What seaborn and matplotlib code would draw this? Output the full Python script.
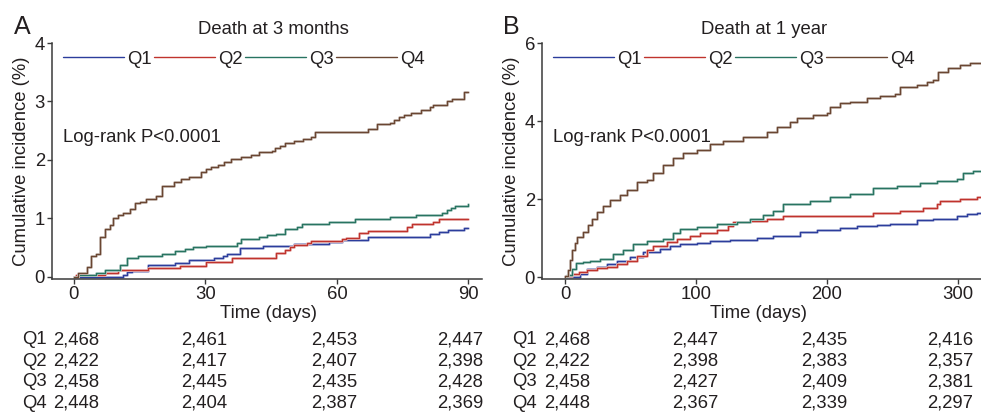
import numpy as np
import pandas as pd
import matplotlib
matplotlib.use("Agg")
import matplotlib.pyplot as plt
import matplotlib.transforms as mtransforms
import matplotlib.patheffects as pe
from matplotlib.lines import Line2D
from matplotlib.colors import to_rgb
import seaborn as sns

# ---------------- data ----------------
groups = ["Q1", "Q2", "Q3", "Q4"]

# Panel A: death at 3 months (time in days, cumulative incidence %)
A_Q1_t = [0, 11.3, 12.0, 13.2, 17.0, 23.0, 26.2, 32.0, 34.1, 35.0, 38.0, 43.2, 50.1, 58.1, 61.1, 67.2, 81.3, 83.2, 85.3, 89.0, 90.0]
A_Q1_v = [0.0, 0.04, 0.08, 0.11, 0.21, 0.245, 0.29, 0.32, 0.35, 0.40, 0.49, 0.535, 0.565, 0.59, 0.63, 0.69, 0.735, 0.775, 0.80, 0.845, 0.845]
A_Q2_t = [0, 0.5, 7.1, 10.1, 17.0, 24.2, 30.2, 36.0, 46.1, 48.2, 49.3, 50.1, 53.1, 54.0, 61.1, 62.1, 65.1, 67.2, 76.0, 77.1, 82.0, 83.2, 90.0]
A_Q2_v = [0.0, 0.04, 0.07, 0.12, 0.145, 0.19, 0.25, 0.32, 0.415, 0.46, 0.51, 0.545, 0.575, 0.61, 0.645, 0.66, 0.745, 0.785, 0.86, 0.905, 0.945, 0.99, 0.99]
A_Q3_t = [0, 1.0, 5.1, 7.0, 10.6, 12.0, 14.7, 20.0, 23.0, 25.3, 27.2, 30.1, 37.1, 38.2, 42.3, 44.0, 46.0, 48.2, 51.0, 52.0, 58.1, 64.2, 72.1, 78.1, 83.9, 85.1, 86.0, 87.0, 90.0]
A_Q3_v = [0.0, 0.035, 0.07, 0.12, 0.21, 0.32, 0.36, 0.40, 0.44, 0.48, 0.51, 0.535, 0.575, 0.655, 0.69, 0.72, 0.74, 0.815, 0.86, 0.905, 0.94, 0.985, 1.025, 1.06, 1.10, 1.145, 1.175, 1.22, 1.255]
A_Q4_t = [0, 1.0, 3.0, 4.0, 5.1, 5.9, 7.0, 8.2, 9.0, 10.1, 11.1, 12.9, 13.9, 15.0, 16.5, 18.8, 20.0, 22.9, 24.4, 26.3,
          29.0, 30.1, 31.3, 32.8, 34.3, 35.8, 38.1, 40.4, 42.3, 45.1, 45.9, 47.0, 48.2, 50.1, 52.2, 54.0, 55.0, 67.0, 69.1, 72.1,
          73.0, 74.2, 75.3, 77.0, 79.2, 81.3, 82.0, 85.1, 86.2, 89.0, 90.0]
A_Q4_v = [0.0, 0.07, 0.17, 0.36, 0.40, 0.69, 0.815, 0.89, 1.01, 1.06, 1.10, 1.17, 1.26, 1.29, 1.34, 1.38, 1.555, 1.63, 1.67, 1.715,
          1.79, 1.84, 1.875, 1.915, 1.96, 2.01, 2.045, 2.085, 2.13, 2.16, 2.20, 2.24, 2.285, 2.325, 2.36, 2.40, 2.485, 2.525, 2.61, 2.64,
          2.68, 2.73, 2.77, 2.81, 2.86, 2.90, 2.94, 3.00, 3.04, 3.17, 3.17]

# Panel B: death at 1 year
B_Q1_t = [0, 11.6, 16.6, 24.2, 31.8, 39.5, 49.6, 59.8, 72.5, 80.2, 87.8, 100.5, 110.7, 126.0, 146.4, 159.0, 179.4, 192.1, 209.9, 222.6,
          237.9, 248.0, 268.4, 281.2, 299.0, 306.6, 314.2, 320]
B_Q1_v = [0.0, 0.08, 0.20, 0.26, 0.33, 0.42, 0.52, 0.65, 0.73, 0.79, 0.84, 0.88, 0.92, 0.95, 1.0, 1.06, 1.15, 1.20, 1.27, 1.31,
          1.34, 1.37, 1.45, 1.50, 1.56, 1.61, 1.63, 1.63]
B_Q2_t = [0, 0.5, 5.2, 10.3, 16.6, 24.2, 31.8, 39.5, 47.1, 54.7, 62.3, 67.4, 77.6, 85.2, 95.4, 103.0, 115.8, 124.7, 128.5, 141.2,
          153.9, 166.7, 235.4, 255.7, 273.5, 283.7, 286.3, 301.5, 314.2, 320]
B_Q2_v = [0.0, 0.03, 0.08, 0.13, 0.17, 0.22, 0.27, 0.33, 0.42, 0.55, 0.70, 0.80, 0.90, 0.98, 1.05, 1.12, 1.20, 1.31, 1.40, 1.44,
          1.50, 1.57, 1.63, 1.70, 1.77, 1.87, 1.95, 1.99, 2.05, 2.05]
B_Q3_t = [0, 1.3, 5.2, 8.5, 14.0, 19.1, 26.7, 36.9, 44.5, 52.2, 62.3, 75.0, 82.7, 87.8, 100.5, 115.8, 131.0, 141.2, 151.4, 159.0,
          166.7, 187.0, 202.3, 217.6, 235.4, 253.2, 271.0, 283.7, 299.0, 304.0, 311.7, 320]
B_Q3_v = [0.0, 0.04, 0.20, 0.35, 0.39, 0.42, 0.47, 0.60, 0.70, 0.86, 0.93, 0.97, 1.12, 1.22, 1.29, 1.35, 1.42, 1.48, 1.58, 1.70,
          1.87, 1.95, 2.04, 2.14, 2.29, 2.34, 2.41, 2.46, 2.52, 2.67, 2.73, 2.73]
B_Q4_t = [0, 0.1, 2.2, 3.4, 5.5, 7.4, 9.2, 14.0, 17.8, 20.4, 24.2, 29.3, 34.4, 42.0, 47.1, 54.7, 62.3, 67.4, 75.0, 82.7,
          90.3, 100.5, 110.7, 120.9, 136.1, 153.9, 161.6, 171.8, 176.8, 189.6, 199.8, 202.3, 209.9, 217.6, 230.3, 240.5, 252.0, 255.8, 268.5, 276.1,
          281.2, 285.0, 292.7, 301.6, 309.2, 320]
B_Q4_v = [0.0, 0.03, 0.18, 0.44, 0.69, 0.87, 1.02, 1.16, 1.33, 1.50, 1.67, 1.82, 1.97, 2.10, 2.23, 2.44, 2.50, 2.66, 2.87, 3.04,
          3.19, 3.26, 3.40, 3.49, 3.60, 3.73, 3.85, 3.98, 4.07, 4.15, 4.21, 4.36, 4.45, 4.49, 4.58, 4.64, 4.68, 4.86, 4.92, 5.00,
          5.06, 5.26, 5.35, 5.43, 5.49, 5.50]

# Numbers at risk
risk_A_times = [0, 30, 60, 90]
risk_A_Q1 = [2468, 2461, 2453, 2447]
risk_A_Q2 = [2422, 2417, 2407, 2398]
risk_A_Q3 = [2458, 2445, 2435, 2428]
risk_A_Q4 = [2448, 2404, 2387, 2369]
risk_B_times = [0, 100, 200, 300]
risk_B_Q1 = [2468, 2447, 2435, 2416]
risk_B_Q2 = [2422, 2398, 2383, 2357]
risk_B_Q3 = [2458, 2427, 2409, 2381]
risk_B_Q4 = [2448, 2367, 2339, 2297]

xticks_A = [0, 30, 60, 90]
yticks_A = [0, 1, 2, 3, 4]
xticks_B = [0, 100, 200, 300]
yticks_B = [0, 2, 4, 6]

# ---------------- style ----------------
sns.set_theme(style="white")
plt.rcParams['font.family'] = ['Liberation Sans', 'DejaVu Sans']
TXT = "#231f20"
SPN = "#3a3a3a"
FS = 13.3
palette = {"Q1": "#2c3d9c", "Q2": "#c0332d", "Q3": "#287461", "Q4": "#6a4632"}


def long_df(series):
    rows = []
    for g, (t, v) in zip(groups, series):
        for ti, vi in zip(t, v):
            rows.append((ti, vi, g))
    return pd.DataFrame(rows, columns=["time", "inc", "group"])


dfA = long_df([(A_Q1_t, A_Q1_v), (A_Q2_t, A_Q2_v), (A_Q3_t, A_Q3_v), (A_Q4_t, A_Q4_v)])
dfB = long_df([(B_Q1_t, B_Q1_v), (B_Q2_t, B_Q2_v), (B_Q3_t, B_Q3_v), (B_Q4_t, B_Q4_v)])

W, H = 981, 413
fig = plt.figure(figsize=(W / 100, H / 100), dpi=100)
fig.patch.set_facecolor("white")

axA = fig.add_axes([52 / W, 1 - 279 / H, (482 - 52) / W, (279 - 43) / H])
axB = fig.add_axes([542 / W, 1 - 279 / H, (981 - 542) / W, (279 - 43) / H])


def lighten(c, f=0.6):
    r, g, b = to_rgb(c)
    return (r + (1 - r) * f, g + (1 - g) * f, b + (1 - b) * f)


for ax, df in [(axA, dfA), (axB, dfB)]:
    sns.lineplot(data=df, x="time", y="inc", hue="group", hue_order=groups, palette=palette,
                 estimator=None, drawstyle="steps-post", lw=1.0, legend=False, ax=ax)
    for ln, g in zip(ax.lines, groups):
        ln.set_path_effects([pe.Stroke(linewidth=2.0, foreground=lighten(palette[g], 0.7)), pe.Normal()])
    for s in ["top", "right"]:
        ax.spines[s].set_visible(False)
    for s in ["left", "bottom"]:
        ax.spines[s].set_color(SPN)
        ax.spines[s].set_linewidth(1.1)
    ax.tick_params(bottom=True, left=True, direction="out", length=3.5, width=1.0, color=SPN,
                   labelsize=FS, labelcolor=TXT, pad=1.5)
    ax.set_xlabel("")
    ax.set_ylabel("")
    ax.set_facecolor("white")
    handles = [Line2D([], [], color=palette[g], lw=1.0) for g in groups]
    ax.legend(handles, groups, ncol=4, loc="center left", frameon=False, fontsize=FS,
              handlelength=3.3, handletextpad=0.15, columnspacing=0.15, borderpad=0, borderaxespad=0,
              bbox_to_anchor=(11 / ((482 - 52) if ax is axA else (981 - 542)), 1 - 16 / 236),
              labelcolor=TXT)

axA.set_xlim(-5.0, 93.1)
axA.set_ylim(-0.035, 4.0)
axA.set_xticks(xticks_A)
axA.set_yticks(yticks_A)
axB.set_xlim(-17.6, 317.6)
axB.set_ylim(-0.05, 6.0)
axB.set_xticks(xticks_B)
axB.set_yticks(yticks_B)


def ft(x, y, s, **kw):
    kw.setdefault("fontsize", FS)
    kw.setdefault("color", TXT)
    fig.text(x / W, 1 - y / H, s, **kw)


# panel letters and titles
ft(22, 27, "A", fontsize=18, ha="center", va="center")
ft(511, 27, "B", fontsize=18, ha="center", va="center")
ft(273, 29, "Death at 3 months", ha="center", va="center")
ft(764, 29, "Death at 1 year", ha="center", va="center")
# y labels
ft(22, 161, "Cumulative incidence (%)", rotation=90, ha="center", va="center")
ft(512, 161, "Cumulative incidence (%)", rotation=90, ha="center", va="center")
# log-rank
ft(63, 138, "Log-rank P<0.0001", ha="left", va="center")
ft(553, 138, "Log-rank P<0.0001", ha="left", va="center")
# x labels
ft(268, 314, "Time (days)", ha="center", va="center")
ft(758, 314, "Time (days)", ha="center", va="center")

# risk tables
row_y = [340, 361, 382, 403]
col_shift_px = [2, -1, -3, -8]
for ax, times, tables, lx in [
    (axA, risk_A_times, [risk_A_Q1, risk_A_Q2, risk_A_Q3, risk_A_Q4], 22),
    (axB, risk_B_times, [risk_B_Q1, risk_B_Q2, risk_B_Q3, risk_B_Q4], 512),
]:
    base = mtransforms.blended_transform_factory(ax.transData, fig.transFigure)
    for g, vals, yy in zip(groups, tables, row_y):
        ft(lx, yy, g, ha="left", va="center")
        for t, n, dx in zip(times, vals, col_shift_px):
            trans = base + mtransforms.Affine2D().translate(dx, 0)
            ax.text(t, 1 - yy / H, f"{n:,}", transform=trans, ha="center", va="center",
                    fontsize=FS, color=TXT, clip_on=False)

fig.savefig("out.png", dpi=100, facecolor="white")
